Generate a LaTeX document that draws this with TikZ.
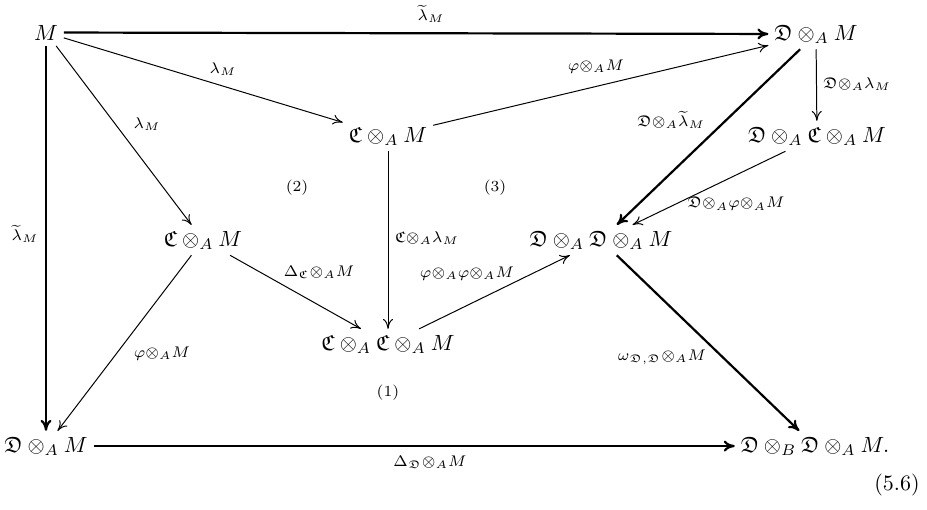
\documentclass[tikz,border=0pt]{standalone}
\usepackage{amsmath}
\usepackage{amssymb}
\usetikzlibrary{arrows.meta}
\newcommand{\arrlbl}[1]{$\scriptstyle #1$}
\begin{document}
\begin{tikzpicture}[x=0.4545pt,y=-0.4545pt,
  obj/.style={inner sep=2.5pt, anchor=base},
  lab/.style={inner sep=0pt},
  regionlab/.style={inner sep=0pt, font=\scriptsize},
  arrthin/.style={line width=0.45pt, -{To[length=4.5pt,width=4.5pt]}},
  arrthick/.style={line width=1pt, -{To[length=5pt,width=5pt]}}
]
\useasboundingbox (0,0) rectangle (927,509);
% objects
\node[obj] (M)   at (46,40)  {$M$};
\node[obj] (D1)  at (816,40) {$\mathfrak D\otimes_A M$};
\node[obj] (C1)  at (388,142) {$\mathfrak C\otimes_A M$};
\node[obj] (DC)  at (817,142) {$\mathfrak D\otimes_A\mathfrak C\otimes_A M$};
\node[obj] (C2)  at (203,246) {$\mathfrak C\otimes_A M$};
\node[obj] (DD)  at (601,246) {$\mathfrak D\otimes_A\mathfrak D\otimes_A M$};
\node[obj] (CC)  at (388,350) {$\mathfrak C\otimes_A\mathfrak C\otimes_A M$};
\node[obj] (D2)  at (46,452) {$\mathfrak D\otimes_A M$};
\node[obj] (DBD) at (815,452) {$\mathfrak D\otimes_B\mathfrak D\otimes_A M.$};
% arrows
\draw[arrthick] (M) -- (D1);
\draw[arrthin]  (M) -- (C1);
\draw[arrthin]  (M) -- (C2);
\draw[arrthick] (M) -- (D2);
\draw[arrthin]  (C1) -- (D1);
\draw[arrthin]  (D1) -- (DC);
\draw[arrthick] (D1) -- (DD);
\draw[arrthin]  (DC) -- (DD);
\draw[arrthin]  (C1) -- (CC);
\draw[arrthin]  (C2) -- (CC);
\draw[arrthin]  (C2) -- (D2);
\draw[arrthin]  (CC) -- (DD);
\draw[arrthick] (DD) -- (DBD);
\draw[arrthick] (D2) -- (DBD);
% arrow labels
\node[lab] (l1)  at (431,14)  {\arrlbl{\widetilde\lambda_M}};
\node[lab] (l2)  at (223,69)  {\arrlbl{\lambda_M}};
\node[lab] (l3)  at (147,124) {\arrlbl{\lambda_M}};
\node[lab] (l4)  at (25,234)  {\arrlbl{\widetilde\lambda_M}};
\node[lab] (l5)  at (596,67)  {\arrlbl{\varphi\otimes_A M}};
\node[lab] (l6)  at (857,84)  {\arrlbl{\mathfrak D\otimes_A\lambda_M}};
\node[lab] (l7)  at (671,120) {\arrlbl{\mathfrak D\otimes_A\widetilde\lambda_M}};
\node[lab] (l8)  at (427,238) {\arrlbl{\mathfrak C\otimes_A\lambda_M}};
\node[lab] (l9)  at (736,204) {\arrlbl{\mathfrak D\otimes_A\varphi\otimes_A M}};
\node[lab] (l10) at (319,272) {\arrlbl{\Delta_{\mathfrak C}\otimes_A M}};
\node[lab] (l11) at (467,274) {\arrlbl{\varphi\otimes_A\varphi\otimes_A M}};
\node[lab] (l12) at (162,354) {\arrlbl{\varphi\otimes_A M}};
\node[lab] (l13) at (662,357) {\arrlbl{\omega_{\mathfrak D,\mathfrak D}\otimes_A M}};
\node[lab] (l14) at (430,462) {\arrlbl{\Delta_{\mathfrak D}\otimes_A M}};
% region labels
\node[regionlab] (r1) at (388,393) {(1)};
\node[regionlab] (r2) at (297,188) {(2)};
\node[regionlab] (r3) at (495,188) {(3)};
\node[inner sep=0pt] (eqno) at (897,485) {(5.6)};
\end{tikzpicture}
\end{document}
